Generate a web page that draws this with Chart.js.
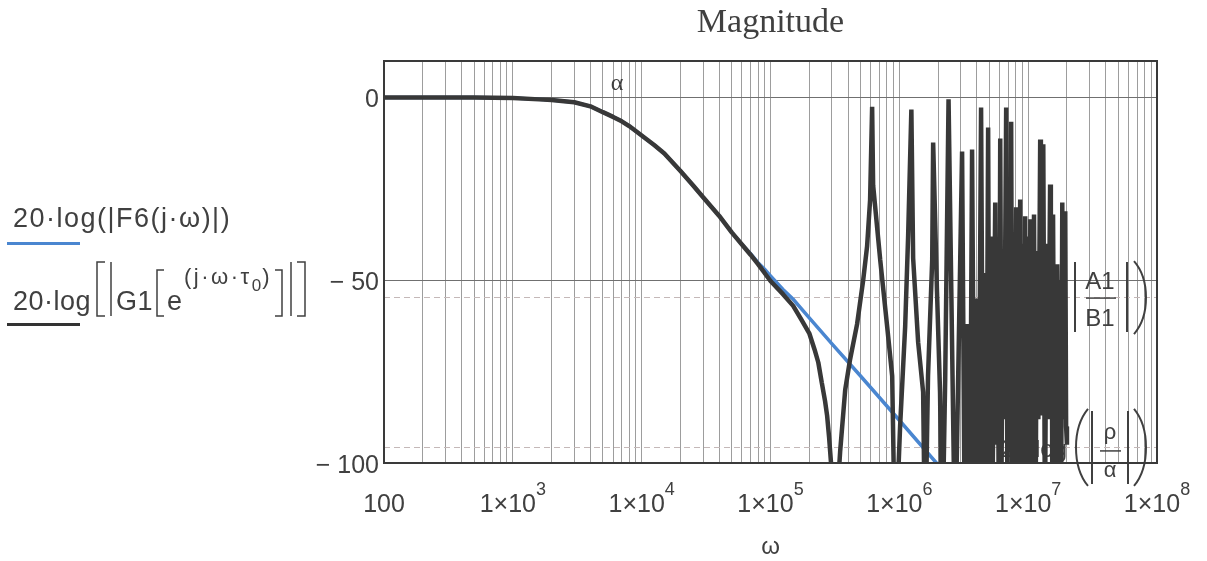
<!DOCTYPE html>
<html>
<head>
<meta charset="utf-8">
<title>Magnitude</title>
<script src="https://cdn.jsdelivr.net/npm/chart.js@4/dist/chart.umd.min.js"></script>
<style>
    html, body { margin: 0; padding: 0; background: #fff; }
</style>
</head>
<body>
<canvas id="magnitude-chart" width="1207" height="561"></canvas>
<script>
// Courbe de module : F6 (bleu) et G1 avec retard (gris foncé), en dB sur axe log

// 20·log(|F6(j·ω)|)
const omegaF6 = [100, 500, 1000, 1600, 2000, 2500, 3000, 4000, 5000, 6000, 7000, 8000, 1e4, 1.25e4, 1.5e4, 2e4, 2.5e4, 3e4, 4e4, 5e4, 6e4, 7e4, 8e4, 9e4, 1e5, 1.25e5, 1.5e5, 2e5, 3e5, 5e5, 1e6, 1.94e6, 3e6];
const dbF6 = [0, 0, -0.1, -0.5, -0.7, -1.0, -1.3, -2.4, -4.0, -5.3, -6.5, -7.8, -10.4, -13, -15.3, -20.1, -24, -27.3, -32.4, -36.9, -40.2, -42.7, -45.2, -47, -48.8, -52.5, -55.2, -60.3, -67.4, -76.2, -88.3, -100, -107.5];

// 20·log(|G1(e^(j·ω·τ0))|) (les creux descendent sous -100)
const omegaG1 = [
    100, 500, 1000, 1600, 2000, 2500, 3000, 4000, 5000, 6000, 7000, 8000, 1e4, 1.25e4, 1.5e4, 2e4, 2.5e4, 3e4,
    4e4, 5e4, 6e4, 7e4, 8e4, 9e4, 1e5, 1.25e5, 1.5e5, 1.75e5, 2e5, 2.2e5, 2.35e5, 2.5e5, 2.65e5, 2.75e5, 2.85e5, 2.95e5, 3.06e5,
    3.29e5, 3.47e5, 3.8e5, 4.15e5, 4.7e5, 5.24e5, 5.62e5, 5.93e5, 6.15e5, 6.26e5, 7.1e5, 8.04e5, 8.8e5, 9.28e5,
    1.014e6, 1.11e6, 1.17e6, 1.24e6, 1.28e6, 1.4e6, 1.53e6, 1.585e6,
    1.67e6, 1.8e6, 1.83e6, 1.96e6, 2.07e6, 2.15e6, 2.27e6, 2.41e6,
    2.71e6, 3.07e6, 3.22e6, 3.4e6, 3.52e6, 3.67e6, 3.82e6, 3.95e6, 4.1e6, 4.31e6,
    4.48e6, 4.6e6, 4.75e6, 4.89e6, 5.02e6, 5.16e6, 5.3e6, 5.55e6, 5.65e6, 5.8e6, 5.92e6, 6.07e6,
    6.22e6, 6.35e6, 6.5e6, 6.75e6, 6.9e6, 7.06e6, 7.2e6, 7.38e6, 7.55e6, 7.7e6, 7.88e6, 8.07e6,
    8.2e6, 8.36e6, 8.5e6, 8.67e6, 8.85e6, 9.06e6, 9.25e6, 9.48e6, 9.7e6, 9.91e6, 1.015e7, 1.04e7,
    1.055e7, 1.07e7, 1.09e7, 1.11e7, 1.14e7, 1.17e7, 1.2e7, 1.24e7, 1.255e7, 1.27e7, 1.29e7, 1.31e7,
    1.35e7, 1.39e7, 1.43e7, 1.48e7, 1.5e7, 1.52e7, 1.54e7, 1.56e7, 1.59e7, 1.62e7, 1.65e7, 1.68e7,
    1.72e7, 1.76e7, 1.8e7, 1.84e7, 1.865e7, 1.89e7, 1.915e7, 1.94e7, 1.97e7, 2.0e7
];
const dbG1 = [
    0, 0, -0.1, -0.5, -0.7, -1.0, -1.3, -2.4, -4.0, -5.3, -6.5, -7.8, -10.4, -13, -15.3, -20.1, -24, -27.3,
    -32.4, -36.9, -40.2, -43, -45.6, -48, -50.2, -53.8, -57, -61, -64.5, -69, -72.5, -78, -83, -87, -93, -100, -125,
    -110, -97, -80, -71.6, -62, -50, -40.7, -28, -2.5, -24, -44.3, -62.6, -76.2, -125,
    -89.9, -62.6, -38, -3.3, -44, -67, -80.6, -125,
    -76.2, -44.3, -12.3, -53, -80.6, -125, -77, -0.5,
    -125, -14.8, -120, -62, -125, -14.2, -110, -55, -125, -2.7,
    -115, -48, -100, -8.2, -120, -38, -105, -28.7, -95, -42, -120, -11.2,
    -100, -45, -88, -2.7, -110, -45, -88, -6.6, -120, -38, -96, -30,
    -115, -36, -90, -27.9, -120, -40, -105, -32.5, -118, -38, -100, -33.3,
    -122, -36, -95, -32, -120, -42, -88, -11.5, -75, -35, -87, -12.8,
    -118, -40, -88, -23.8, -85, -38, -110, -32, -88, -48, -120, -45.6,
    -90, -50, -115, -28.7, -85, -40, -88, -31.1, -90, -95
];

// Graduations et marqueurs
const xTickValues = [1e2, 1e3, 1e4, 1e5, 1e6, 1e7, 1e8];
const xTickBase = ['100', '1×10', '1×10', '1×10', '1×10', '1×10', '1×10'];
const xTickExp = ['', '3', '4', '5', '6', '7', '8'];
const yTickValues = [0, -50, -100];
const yTickLabels = ['0', '\u2212 50', '\u2212 100'];
const markerAlpha = 6440;      // ω du repère α
const markerA1B1 = -54.6;      // 20·log(|A1/B1|)
const markerRhoAlpha = -95.6;  // 20·log(|ρ/α|)

// Grille log : 1..9 × 10^n
const xGridValues = [];
for (let e = 2; e < 8; e++) {
    for (let m = 1; m <= 9; m++) xGridValues.push(m * Math.pow(10, e));
}
xGridValues.push(1e8);

const TEXT = '#404040';
const SANS = '"Liberation Sans", Arial, sans-serif';
const SERIF = '"Liberation Serif", "Times New Roman", serif';

function toPoints(xs, ys) {
    return xs.map((x, i) => ({ x: x, y: ys[i] }));
}

// Parenthèse dessinée (gauche: dir = -1, droite: dir = 1)
function drawParen(ctx, x0, top, bot, dir, bulge) {
    const h = bot - top;
    ctx.beginPath();
    ctx.moveTo(x0, top);
    ctx.bezierCurveTo(x0 + dir * bulge, top + h * 0.25, x0 + dir * bulge, bot - h * 0.25, x0, bot);
    ctx.stroke();
}

function drawBar(ctx, x, top, bot) {
    ctx.beginPath();
    ctx.moveTo(x, top);
    ctx.lineTo(x, bot);
    ctx.stroke();
}

// Crochet : dir = 1 pour "[", -1 pour "]"
function drawBracket(ctx, x, top, bot, dir, w) {
    ctx.beginPath();
    ctx.moveTo(x + dir * w, top);
    ctx.lineTo(x, top);
    ctx.lineTo(x, bot);
    ctx.lineTo(x + dir * w, bot);
    ctx.stroke();
}

const mathcadPlugin = {
    id: 'mathcadDecor',
    beforeDatasetsDraw(chart) {
        const { ctx, chartArea: a, scales: { x, y } } = chart;
        ctx.save();
        // lignes de repère en tirets
        ctx.strokeStyle = '#c4b8b8';
        ctx.lineWidth = 1;
        ctx.setLineDash([6, 4]);
        [markerA1B1, markerRhoAlpha].forEach(v => {
            const py = Math.round(y.getPixelForValue(v)) + 0.5;
            ctx.beginPath();
            ctx.moveTo(a.left, py);
            ctx.lineTo(a.right, py);
            ctx.stroke();
        });
        ctx.setLineDash([]);

        ctx.fillStyle = TEXT;
        ctx.strokeStyle = TEXT;
        ctx.textAlign = 'center';
        ctx.textBaseline = 'alphabetic';

        // α en haut
        ctx.font = '24px ' + SERIF;
        ctx.fillText('α', x.getPixelForValue(markerAlpha), a.top + 29);

        // |A1/B1|
        const yA = y.getPixelForValue(markerA1B1);
        ctx.lineWidth = 2;
        drawBar(ctx, 1075, yA - 35, yA + 35);
        drawBar(ctx, 1127, yA - 35, yA + 35);
        drawParen(ctx, 1134, yA - 36, yA + 37, 1, 16);
        ctx.font = '24px ' + SANS;
        ctx.fillText('A1', 1100, yA - 8);
        ctx.fillText('B1', 1100, yA + 29);
        ctx.lineWidth = 1.5;
        ctx.beginPath();
        ctx.moveTo(1086, yA + 1);
        ctx.lineTo(1116, yA + 1);
        ctx.stroke();

        // 20·log(|ρ/α|)
        const yR = y.getPixelForValue(markerRhoAlpha);
        ctx.textAlign = 'right';
        ctx.font = '24px ' + SANS;
        ctx.fillText('20·log', 1067, yR + 10);
        ctx.lineWidth = 2;
        drawParen(ctx, 1088, yR - 38, yR + 39, -1, 16);
        drawBar(ctx, 1092, yR - 36, yR + 37);
        drawBar(ctx, 1128, yR - 36, yR + 37);
        drawParen(ctx, 1134, yR - 38, yR + 39, 1, 16);
        ctx.textAlign = 'center';
        ctx.font = '22px ' + SANS;
        ctx.fillText('ρ', 1110, yR - 8);
        ctx.fillText('α', 1110, yR + 30);
        ctx.lineWidth = 1.5;
        ctx.beginPath();
        ctx.moveTo(1100, yR + 4);
        ctx.lineTo(1121, yR + 4);
        ctx.stroke();
        ctx.restore();
    },
    afterDraw(chart) {
        const { ctx, chartArea: a, scales: { x, y } } = chart;
        ctx.save();
        // cadre
        ctx.strokeStyle = '#3a3a3a';
        ctx.lineWidth = 2;
        ctx.strokeRect(a.left, a.top, a.right - a.left, a.bottom - a.top);

        ctx.fillStyle = TEXT;
        ctx.textBaseline = 'alphabetic';

        // graduations x avec exposant
        xTickValues.forEach((v, i) => {
            const px = x.getPixelForValue(v);
            ctx.font = '25px ' + SANS;
            const wb = ctx.measureText(xTickBase[i]).width;
            ctx.font = '18px ' + SANS;
            const ws = xTickExp[i] ? ctx.measureText(xTickExp[i]).width : 0;
            const start = px - (wb + ws) / 2;
            ctx.textAlign = 'left';
            ctx.font = '25px ' + SANS;
            ctx.fillText(xTickBase[i], start, a.bottom + 49);
            if (xTickExp[i]) {
                ctx.font = '18px ' + SANS;
                ctx.fillText(xTickExp[i], start + wb, a.bottom + 32);
            }
        });

        // graduations y
        ctx.textAlign = 'right';
        ctx.textBaseline = 'middle';
        ctx.font = '25px ' + SANS;
        yTickValues.forEach((v, i) => {
            ctx.fillText(yTickLabels[i], a.left - 5, y.getPixelForValue(v) + 3);
        });

        // titre et axe
        ctx.textBaseline = 'alphabetic';
        ctx.textAlign = 'center';
        ctx.font = '34px ' + SERIF;
        ctx.fillText('Magnitude', (a.left + a.right) / 2, 32);
        ctx.font = '24px ' + SANS;
        ctx.fillText('ω', (a.left + a.right) / 2, 554);

        // légende à gauche
        ctx.textAlign = 'left';
        ctx.font = '27px ' + SANS;
        ctx.letterSpacing = '1.5px';
        ctx.fillText('20·log(|F6(j·ω)|)', 13, 227);
        ctx.fillStyle = '#4a86d0';
        ctx.fillRect(7, 242, 73, 3);

        ctx.fillStyle = TEXT;
        ctx.strokeStyle = TEXT;
        ctx.lineWidth = 1.5;
        ctx.letterSpacing = '0.5px';
        ctx.fillText('20·log', 13, 310);
        drawBracket(ctx, 97, 262, 316, 1, 8);
        drawBar(ctx, 111, 262, 316);
        ctx.fillText('G1', 116, 310);
        drawBracket(ctx, 157, 270, 316, 1, 7);
        ctx.fillText('e', 167, 310);
        ctx.letterSpacing = '2.5px';
        ctx.font = '22px ' + SANS;
        ctx.fillText('(j·ω·τ', 184, 284);
        let cx = 184 + ctx.measureText('(j·ω·τ').width;
        ctx.letterSpacing = '0px';
        ctx.font = '17px ' + SANS;
        ctx.fillText('0', cx, 291);
        cx += ctx.measureText('0').width + 1;
        ctx.font = '22px ' + SANS;
        ctx.fillText(')', cx, 284);
        drawBracket(ctx, 282, 270, 316, -1, 7);
        drawBar(ctx, 291, 262, 316);
        drawBracket(ctx, 305, 262, 316, -1, 8);
        ctx.fillStyle = '#333';
        ctx.fillRect(7, 323, 73, 3);
        ctx.restore();
    }
};

const chart = new Chart(document.getElementById('magnitude-chart'), {
    type: 'line',
    data: {
        datasets: [
            {
                label: '20·log[|G1[e^(j·ω·τ0)]|]',
                data: toPoints(omegaG1, dbG1),
                borderColor: '#383838',
                borderWidth: 4.5,
                borderJoinStyle: 'bevel',
                pointRadius: 0,
                tension: 0,
                clip: 0,
                order: 1
            },
            {
                label: '20·log(|F6(j·ω)|)',
                data: toPoints(omegaF6, dbF6),
                borderColor: '#4a86d0',
                borderWidth: 3.5,
                pointRadius: 0,
                tension: 0,
                clip: 0,
                order: 2
            }
        ]
    },
    options: {
        responsive: false,
        animation: false,
        devicePixelRatio: 1,
        layout: { padding: { left: 384, right: 50, top: 61, bottom: 98 } },
        plugins: {
            legend: { display: false },
            tooltip: { enabled: false },
            title: { display: false }
        },
        scales: {
            x: {
                type: 'logarithmic',
                min: 100,
                max: 1e8,
                afterBuildTicks: s => { s.ticks = xGridValues.map(v => ({ value: v })); },
                ticks: { display: false },
                grid: { color: '#9d9d9d', lineWidth: 1, drawTicks: false },
                border: { display: false }
            },
            y: {
                type: 'linear',
                min: -100,
                max: 10,
                afterBuildTicks: s => { s.ticks = yTickValues.map(v => ({ value: v })); },
                ticks: { display: false },
                grid: { color: '#707070', lineWidth: 1, drawTicks: false },
                border: { display: false }
            }
        }
    },
    plugins: [mathcadPlugin]
});
</script>
</body>
</html>
